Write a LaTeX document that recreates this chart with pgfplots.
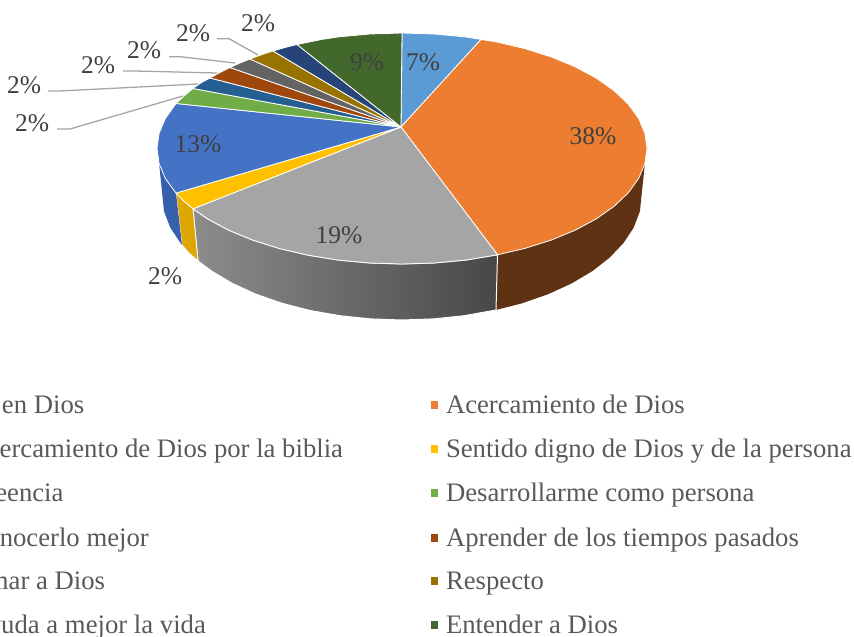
\documentclass[border=0pt]{standalone}
\usepackage{fontspec}
\setmainfont{Liberation Serif}
\usepackage{pgfplots}
\pgfplotsset{compat=1.18}
\definecolor{c1}{HTML}{5B9BD5}\definecolor{c2}{HTML}{ED7D31}\definecolor{c3}{HTML}{A5A5A5}
\definecolor{c4}{HTML}{FFC000}\definecolor{c5}{HTML}{4472C4}\definecolor{c6}{HTML}{70AD47}
\definecolor{c7}{HTML}{255E91}\definecolor{c8}{HTML}{9E480E}\definecolor{c9}{HTML}{636363}
\definecolor{c10}{HTML}{997300}\definecolor{c11}{HTML}{264478}\definecolor{c12}{HTML}{43682B}
\definecolor{wall2}{HTML}{5F3214}\definecolor{wall4}{HTML}{DDA600}\definecolor{wall5}{HTML}{3660AC}
\definecolor{lab}{HTML}{404040}\definecolor{leg}{HTML}{595959}\definecolor{lead}{HTML}{A6A6A6}
\begin{document}
\begin{tikzpicture}
\path[use as bounding box,clip] (0,0) rectangle (854pt,637pt);
\begin{axis}[
  at={(0,0)},anchor=south west,
  width=854pt,height=637pt,scale only axis,
  xmin=0,xmax=854,ymin=0,ymax=637,y dir=reverse,
  axis lines=none,clip=false,
  legend columns=2,
  legend cell align=left,
  legend image code/.code={\fill[#1,draw=none] (0pt,-4pt) rectangle (7pt,4pt);},
  legend style={at={(axis cs:-46.4,393)},anchor=north west,draw=none,fill=none,
    font=\fontsize{26.7}{28}\selectfont,text=leg,inner sep=0pt,outer sep=0pt,
    row sep=20.2pt,
    /tikz/every odd column/.append style={column sep=6pt},
    /tikz/every even column/.append style={column sep=86pt}},
]
% side walls
\addplot[forget plot,fill=wall2,draw=none] coordinates {(644.9,163.6)(628.4,192.7)(596.4,218.8)(551.2,240.1)(524.5,248.5)(497.5,254.8)(496,310)(522,303.3)(548.1,294.2)(571.7,283.4)(592.4,271.1)(609.8,257.5)(623.7,242.8)(633.8,227.4)(639.9,211.3)} --cycle;
\addplot[forget plot,left color=c3!85!black,right color=black!72,draw=white,line width=1pt] coordinates {(497.5,254.8)(465.4,260.1)(434,263)(402,264)(370,263)(338.6,260.1)(308.2,255.2)(279.5,248.5)(252.8,240.1)(228.8,230.2)(207.6,218.8)(193,208.8)(198,261)(211.6,271.1)(232.3,283.4)(255.9,294.2)(282,303.3)(310.2,310.5)(339.8,315.7)(370.7,318.9)(402,320)(433.3,318.9)(464.2,315.7)(496,310)} --cycle;
\addplot[forget plot,fill=wall4,draw=white,line width=0.8pt] coordinates {(193,208.8)(183.7,200.9)(176,193.1)(182,245)(189,253)(198,261)} --cycle;
\addplot[forget plot,fill=wall5,draw=none] coordinates {(176,193.1)(165.3,178.4)(159.1,163.6)(164,211.3)(170.2,227.4)(180.3,242.8)(182,245)} --cycle;
% top slices
\addplot[fill=c1,draw=white,line width=0.8pt] coordinates {(401,127)(402,33)(434,34)(465.4,36.9)(481,39.5)} --cycle;
\addlegendentry{Fe en Dios}
\addplot[fill=c2,draw=white,line width=0.8pt] coordinates {(401,127)(481,39.5)(495.8,41.8)(524.5,48.5)(551.2,56.9)(575.2,66.8)(596.4,78.2)(614.2,90.8)(628.4,104.3)(638.7,118.6)(644.9,133.4)(647,148.5)(644.9,163.6)(638.7,178.4)(628.4,192.7)(614.2,206.2)(596.4,218.8)(575.2,230.2)(551.2,240.1)(524.5,248.5)(497.5,254.8)} --cycle;
\addlegendentry{Acercamiento de Dios}
\addplot[fill=c3,draw=white,line width=0.8pt] coordinates {(401,127)(497.5,254.8)(465.4,260.1)(434,263)(402,264)(370,263)(338.6,260.1)(308.2,255.2)(279.5,248.5)(252.8,240.1)(228.8,230.2)(207.6,218.8)(193,208.8)} --cycle;
\addlegendentry{Acercamiento de Dios por la biblia}
\addplot[fill=c4,draw=white,line width=0.8pt] coordinates {(401,127)(193,208.8)(183.7,200.9)(176,193.1)} --cycle;
\addlegendentry{Sentido digno de Dios y de la persona}
\addplot[fill=c5,draw=white,line width=0.8pt] coordinates {(401,127)(176,193.1)(165.3,178.4)(159.1,163.6)(157,148.5)(159.1,133.4)(165.3,118.6)(176,103.5)} --cycle;
\addlegendentry{Creencia}
\addplot[fill=c6,draw=white,line width=0.8pt] coordinates {(401,127)(176,103.5)(184,96)(193,88.5)} --cycle;
\addlegendentry{Desarrollarme como persona}
\addplot[fill=c7,draw=white,line width=0.8pt] coordinates {(401,127)(193,88.5)(201,82.8)(210,78)} --cycle;
\addlegendentry{Conocerlo mejor}
\addplot[fill=c8,draw=white,line width=0.8pt] coordinates {(401,127)(210,78)(220,72.5)(230,67.5)} --cycle;
\addlegendentry{Aprender de los tiempos pasados}
\addplot[fill=c9,draw=white,line width=0.8pt] coordinates {(401,127)(230,67.5)(240,63)(250,59)} --cycle;
\addlegendentry{Amar a Dios}
\addplot[fill=c10,draw=white,line width=0.8pt] coordinates {(401,127)(250,59)(262,54.5)(273,51)} --cycle;
\addlegendentry{Respecto}
\addplot[fill=c11,draw=white,line width=0.8pt] coordinates {(401,127)(273,51)(285,47.5)(297,44.5)} --cycle;
\addlegendentry{A\kern0pt yuda a mejor la vida}
\addplot[fill=c12,draw=white,line width=0.8pt] coordinates {(401,127)(297,44.5)(322,39.4)(338.6,36.9)(370,34)(402,33)} --cycle;
\addlegendentry{Entender a Dios}
% leader lines
\addplot[forget plot,lead,line width=1.3pt] coordinates {(217,38.7)(229,38.7)(258,55)};
\addplot[forget plot,lead,line width=1.3pt] coordinates {(169,56.7)(180,56.7)(235,63)};
\addplot[forget plot,lead,line width=1.3pt] coordinates {(123,71)(135,71)(217,73)};
\addplot[forget plot,lead,line width=1.3pt] coordinates {(48,91)(60,91)(198,84)};
\addplot[forget plot,lead,line width=1.3pt] coordinates {(57,129)(70,129)(183,96)};
% labels
\begin{scope}[every node/.style={text=lab,font=\fontsize{25.5}{28}\selectfont,inner sep=0pt}]
\node at (axis cs:423,62) {7\%};
\node at (axis cs:593,136) {38\%};
\node at (axis cs:339,235) {19\%};
\node at (axis cs:165,276) {2\%};
\node at (axis cs:198,144) {13\%};
\node at (axis cs:367,62) {9\%};
\node at (axis cs:258,23) {2\%};
\node at (axis cs:193,33) {2\%};
\node at (axis cs:144,50) {2\%};
\node at (axis cs:98,65) {2\%};
\node at (axis cs:24,85) {2\%};
\node at (axis cs:32,123) {2\%};
\end{scope}
\end{axis}
\end{tikzpicture}
\end{document}
